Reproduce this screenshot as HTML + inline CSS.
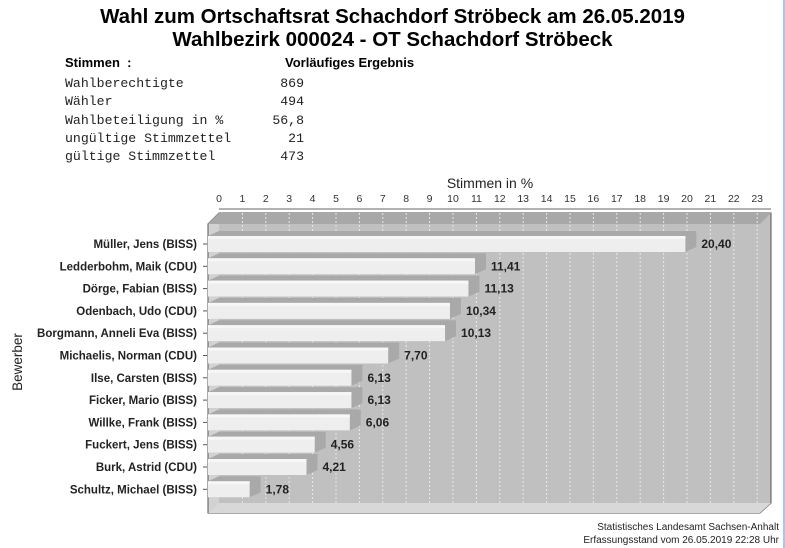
<!DOCTYPE html>
<html><head><meta charset="utf-8"><style>
body{margin:0;background:#fff;width:785px;height:548px;overflow:hidden;position:relative;font-family:"Liberation Sans",sans-serif}
.t{position:absolute;left:0;width:785px;text-align:center;font-weight:bold;font-size:20.5px;color:#000}
.m{position:absolute;font-family:"Liberation Mono",monospace;font-size:13.2px;color:#222}
</style></head><body>
<div class="t" style="top:5px">Wahl zum Ortschaftsrat Schachdorf Ströbeck am 26.05.2019</div>
<div class="t" style="top:28px">Wahlbezirk 000024 - OT Schachdorf Ströbeck</div>
<div style="position:absolute;left:65px;top:55px;font-weight:bold;font-size:13px">Stimmen &nbsp;:</div>
<div style="position:absolute;left:285px;top:55px;font-weight:bold;font-size:13px">Vorläufiges Ergebnis</div>
<div class="m" style="left:65px;top:75px;line-height:18.3px">Wahlberechtigte<br>Wähler<br>Wahlbeteiligung in %<br>ungültige Stimmzettel<br>gültige Stimmzettel</div>
<div class="m" style="left:240px;width:64px;text-align:right;top:75px;line-height:18.3px">869<br>494<br>56,8<br>21<br>473</div>
<div style="position:absolute;left:783px;top:0;width:2px;height:548px;background:#a9c8e8"></div>
<svg width="785" height="548" style="position:absolute;left:0;top:0" font-family="Liberation Sans, sans-serif">
<text x="490" y="188" font-size="14" text-anchor="middle" fill="#222">Stimmen in %</text>
<line x1="219" y1="209" x2="771" y2="209" stroke="#666"/>
<g font-size="10.5" fill="#333" text-anchor="middle">
<text x="219" y="202">0</text><text x="242.4" y="202">1</text><text x="265.8" y="202">2</text><text x="289.2" y="202">3</text><text x="312.6" y="202">4</text><text x="336" y="202">5</text><text x="359.4" y="202">6</text><text x="382.8" y="202">7</text><text x="406.2" y="202">8</text><text x="429.6" y="202">9</text><text x="453" y="202">10</text><text x="476.4" y="202">11</text><text x="499.8" y="202">12</text><text x="523.2" y="202">13</text><text x="546.6" y="202">14</text><text x="570" y="202">15</text><text x="593.4" y="202">16</text><text x="616.8" y="202">17</text><text x="640.2" y="202">18</text><text x="663.6" y="202">19</text><text x="687" y="202">20</text><text x="710.4" y="202">21</text><text x="733.8" y="202">22</text><text x="757.2" y="202">23</text>
</g>
<polygon points="219,213 771,213 771,503 760,513 208,513 208,224" fill="#c0c0c0" stroke="#555"/>
<polygon points="208,224 219,213 219,503 208,513" fill="#d2d2d2"/>
<polygon points="208,224 219,213 771,213 760,224" fill="#a8a8a8"/>
<polygon points="208,513 219,503 771,503 760,513" fill="#d8d8d8"/>
<g stroke="#e8e8e8" stroke-dasharray="2,2">
<line x1="242.4" y1="213" x2="242.4" y2="503"/><line x1="265.8" y1="213" x2="265.8" y2="503"/><line x1="289.2" y1="213" x2="289.2" y2="503"/><line x1="312.6" y1="213" x2="312.6" y2="503"/><line x1="336" y1="213" x2="336" y2="503"/><line x1="359.4" y1="213" x2="359.4" y2="503"/><line x1="382.8" y1="213" x2="382.8" y2="503"/><line x1="406.2" y1="213" x2="406.2" y2="503"/><line x1="429.6" y1="213" x2="429.6" y2="503"/><line x1="453" y1="213" x2="453" y2="503"/><line x1="476.4" y1="213" x2="476.4" y2="503"/><line x1="499.8" y1="213" x2="499.8" y2="503"/><line x1="523.2" y1="213" x2="523.2" y2="503"/><line x1="546.6" y1="213" x2="546.6" y2="503"/><line x1="570" y1="213" x2="570" y2="503"/><line x1="593.4" y1="213" x2="593.4" y2="503"/><line x1="616.8" y1="213" x2="616.8" y2="503"/><line x1="640.2" y1="213" x2="640.2" y2="503"/><line x1="663.6" y1="213" x2="663.6" y2="503"/><line x1="687" y1="213" x2="687" y2="503"/><line x1="710.4" y1="213" x2="710.4" y2="503"/><line x1="733.8" y1="213" x2="733.8" y2="503"/><line x1="757.2" y1="213" x2="757.2" y2="503"/>
</g>
<line x1="208" y1="224" x2="208" y2="513" stroke="#555"/>
<g id="bars"></g>
<text x="22" y="362" font-size="13.5" fill="#222" transform="rotate(-90 22 362)" text-anchor="middle">Bewerber</text>
<g font-size="10" fill="#222" text-anchor="end">
<text x="779" y="530">Statistisches Landesamt Sachsen-Anhalt</text>
<text x="779" y="543">Erfassungsstand vom 26.05.2019 22:28 Uhr</text>
</g>
</svg>
<script>
var d=[["Müller, Jens (BISS)",20.40],["Ledderbohm, Maik (CDU)",11.41],["Dörge, Fabian (BISS)",11.13],["Odenbach, Udo (CDU)",10.34],["Borgmann, Anneli Eva (BISS)",10.13],["Michaelis, Norman (CDU)",7.70],["Ilse, Carsten (BISS)",6.13],["Ficker, Mario (BISS)",6.13],["Willke, Frank (BISS)",6.06],["Fuckert, Jens (BISS)",4.56],["Burk, Astrid (CDU)",4.21],["Schultz, Michael (BISS)",1.78]];
var s="";
d.forEach(function(r,i){var c=244+i*22.3,w=r[1]*23.4,x2=208+w;
s+='<polygon points="208,'+(c-8)+' 219,'+(c-13)+' '+(x2+11)+','+(c-13)+' '+(x2+11)+','+(c+3)+' '+x2+','+(c+8)+' 208,'+(c+8)+'" fill="#a9a9a9"/>';
s+='<rect x="208" y="'+(c-8)+'" width="'+w+'" height="16" fill="#eeeeee"/>';
s+='<rect x="208" y="'+(c-8)+'" width="'+w+'" height="3" fill="#f7f7f7"/>';
s+='<text x="'+(x2+16)+'" y="'+(c+4)+'" font-size="12" font-weight="bold" fill="#222">'+r[1].toFixed(2).replace(".",",")+'</text>';
s+='<text x="197" y="'+(c+4)+'" font-size="11.5" font-weight="bold" fill="#222" text-anchor="end">'+r[0]+'</text>';
s+='<line x1="203" y1="'+c+'" x2="207" y2="'+c+'" stroke="#555"/>';});
document.getElementById("bars").innerHTML=s;
</script>
</body></html>
